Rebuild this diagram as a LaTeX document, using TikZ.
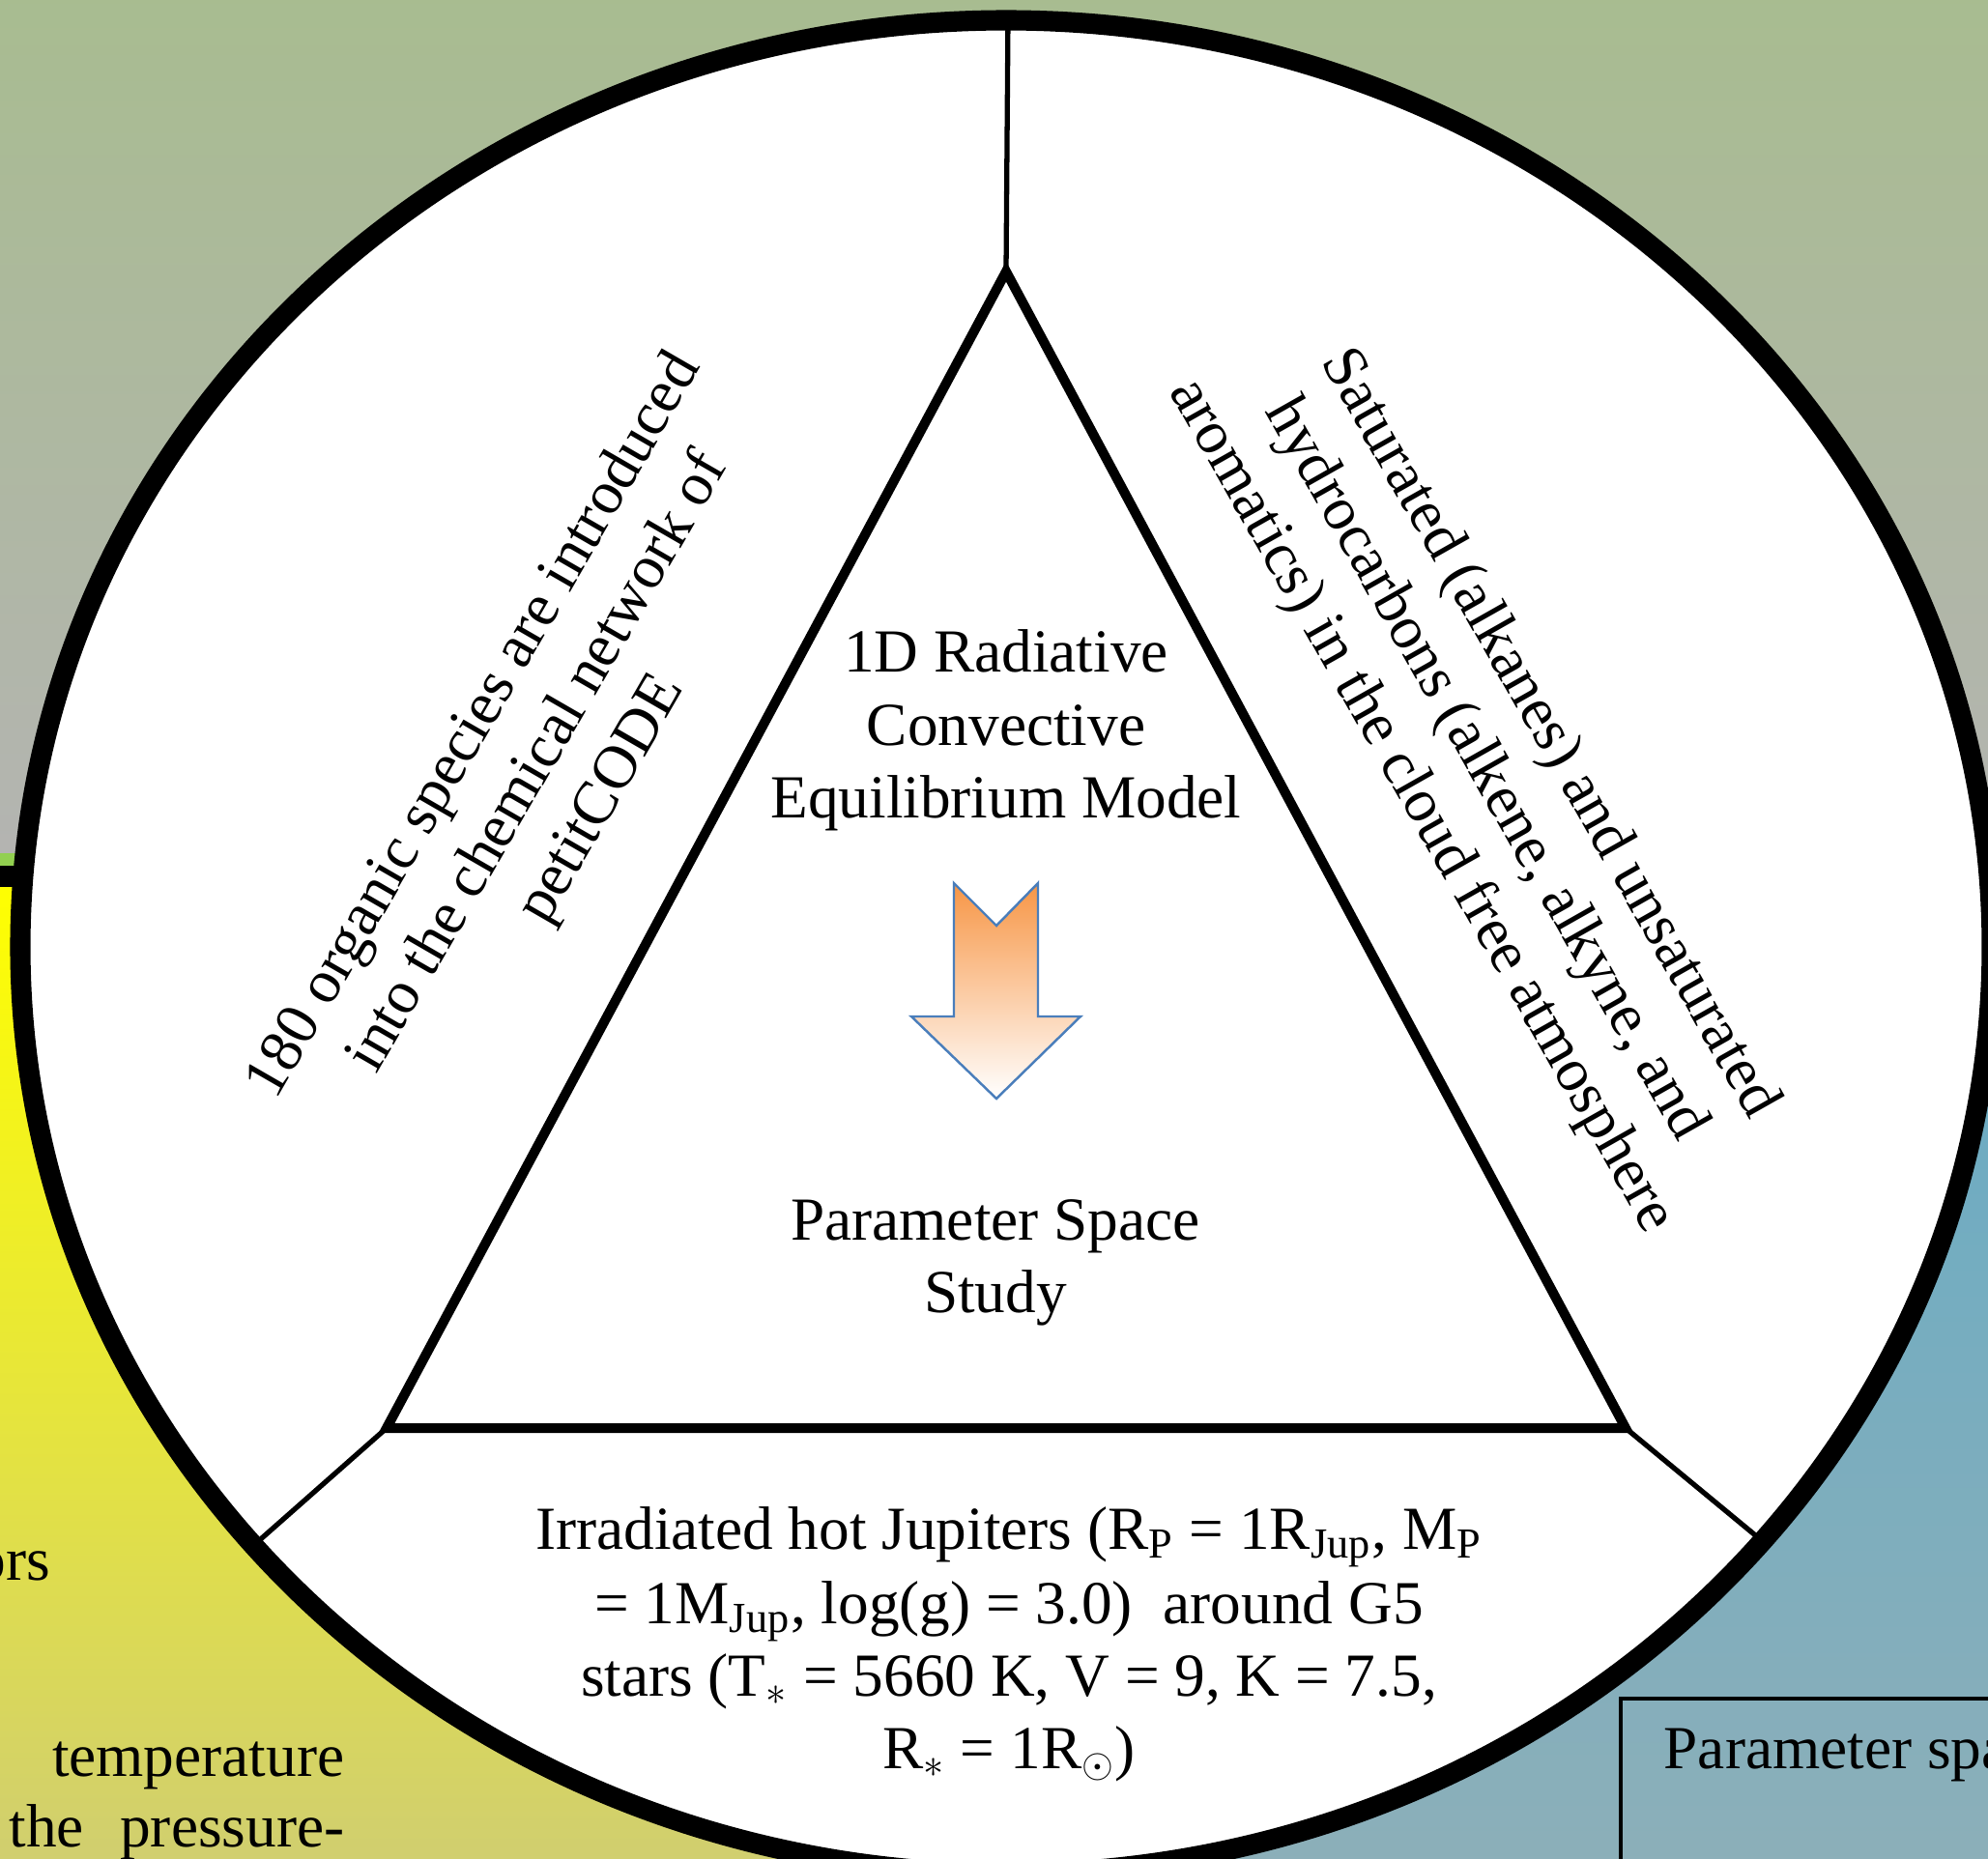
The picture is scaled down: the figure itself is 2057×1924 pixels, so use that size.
\documentclass[tikz,border=0pt]{standalone}
\usepackage{fontspec}
\setmainfont{Liberation Serif}
\definecolor{bgtop}{RGB}{168,188,144}
\definecolor{bgbot}{RGB}{180,180,178}
\definecolor{ylwtop}{RGB}{255,255,0}
\definecolor{ylwbot}{RGB}{208,206,112}
\definecolor{tealtop}{RGB}{100,171,197}
\definecolor{tealbot}{RGB}{140,175,185}
\definecolor{grn}{RGB}{146,208,80}
\definecolor{arrorange}{RGB}{247,150,70}
\definecolor{arrblue}{RGB}{74,126,187}
\tikzset{
  txt/.style={inner sep=0pt, text=black, font=\fontsize{18}{21.6}\selectfont},
  thinline/.style={line width=1.5pt, black},
  triline/.style={line width=2.85pt, black, line join=miter},
  ringline/.style={line width=6pt, black},
}
\begin{document}
\begin{tikzpicture}[x=0.01cm,y=0.01cm]
\useasboundingbox (0,0) rectangle (2057,-1924);
\clip (0,0) rectangle (2057,-1924);
% backgrounds
\shade[top color=bgtop, bottom color=bgbot] (-10,10) rectangle (2067,-900);
\fill[grn] (-10,-883) rectangle (300,-898);
\shade[top color=ylwtop, bottom color=ylwbot] (-10,-907) rectangle (900,-1934);
\draw[ringline] (-10,-907) -- (900,-907);
\shade[top color=tealtop, bottom color=tealbot] (1150,-880) rectangle (2067,-1934);
\draw[line width=1.1pt] (2080,-1758) -- (1677,-1758) -- (1677,-1940);
\node[txt, anchor=base west] (boxtext) at (1721,-1830) {Parameter spa};
% left text fragments
\node[txt, anchor=base east] (ors) at (53,-1635) {ors};
\node[txt, anchor=base east] (temp) at (357,-1838) {temperature};
\node[txt, anchor=base west] (the) at (9,-1911) {the};
\node[txt, anchor=base east] (press) at (357,-1911) {pressure-};
% circle
\fill[white] (1041,-980) ellipse [x radius=1020, y radius=959];
\coordinate (A) at (1041,-281);
\coordinate (B) at (400,-1478);
\coordinate (C) at (1682,-1478);
\coordinate (rt) at (1043,-15);
\coordinate (rl) at (264,-1598);
\coordinate (rr) at (1826,-1597);
\draw[thinline] (A) -- (rt);
\draw[thinline] (B) -- (rl);
\draw[thinline] (C) -- (rr);
\draw[triline] (A) -- (B) -- (C) -- cycle;
\draw[ringline] (1041,-980) ellipse [x radius=1020, y radius=959];
% centre texts
\node[txt, anchor=base] (c1) at (1041,-695) {1D Radiative};
\node[txt, anchor=base] (c2) at (1041,-771) {Convective};
\node[txt, anchor=base] (c3) at (1041,-846) {Equilibrium Model};
\node[txt, anchor=base] (p1) at (1030,-1283) {Parameter Space};
\node[txt, anchor=base] (p2) at (1030,-1358) {Study};
% arrow
\path[draw=arrblue, line width=0.7pt, line join=miter, top color=arrorange, bottom color=white]
  (987,-914) -- (1031,-958) -- (1074,-914) -- (1074,-1052) -- (1118,-1052)
  -- (1031,-1137) -- (943,-1052) -- (987,-1052) -- cycle;
% rotated texts
\node[txt, rotate=60, align=center] (lefttext) at (558,-790)
  {180 organic species are introduced\\into the chemical network of\\petitCODE};
\node[txt, rotate=-60.5, align=center] (righttext) at (1536,-797)
  {Saturated (alkanes) and unsaturated\\hydrocarbons (alkene, alkyne, and\\aromatics) in the cloud free atmosphere};
% bottom text
\node[txt, anchor=base] (b1) at (1044,-1603) {Irradiated hot Jupiters (R\textsubscript{P} = 1R\textsubscript{Jup}, M\textsubscript{P}};
\node[txt, anchor=base] (b2) at (1044,-1680) {= 1M\textsubscript{Jup}, log(g) = 3.0)\ \ around G5};
\node[txt, anchor=base] (b3) at (1044,-1755) {stars (T\textsubscript{$\ast$} = 5660 K, V = 9, K = 7.5,};
\node[txt, anchor=base] (b4) at (1044,-1830) {R\textsubscript{$\ast$} = 1R\textsubscript{$\odot$})};
\end{tikzpicture}
\end{document}
